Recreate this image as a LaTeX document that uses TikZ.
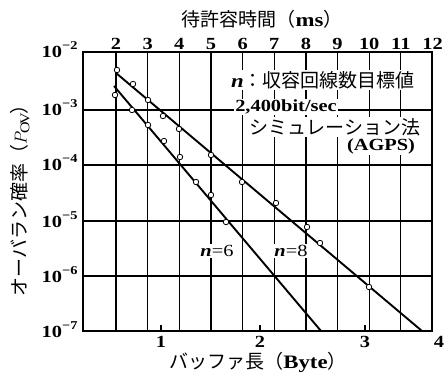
\documentclass[tikz,border=0pt]{standalone}
\usepackage{fontspec}
\setmainfont{Liberation Serif}[FakeStretch=1.2]
\newfontfamily\jp{Noto Sans CJK JP}
\usepackage{tikz}

\begin{document}
\begin{tikzpicture}[x=1pt, y=-1pt,
        gridrule/.style={line width=1.2pt},
        dataline/.style={line width=1.9pt},
        obs/.style={circle, draw, fill=white, line width=0.8pt, inner sep=0pt, minimum size=5.5pt},
        numlab/.style={font=\rmfamily\bfseries\fontsize{17}{20}\selectfont},
        jplab/.style={font=\jp\fontsize{19}{21}\selectfont},
        lbl/.style={fill=white, inner sep=1pt}]
        \useasboundingbox (0,0) rectangle (446,379);

        % Draw the grid (decades)
        \foreach \yy in {110,165,221,276}
            \draw[gridrule] (83,\yy) -- (432,\yy);
        % Draw the grid (milliseconds)
        \foreach \tt in {2,...,11}
            \draw[gridrule] ({116+(\tt-2)*31.65},52) -- ({116+(\tt-2)*31.65},331);

        % Draw the frame and byte ticks
        \draw[line width=1.5pt] (83,52) rectangle (432,331);
        \foreach \xx in {161,260,365}
            \draw[gridrule] (\xx,331) -- (\xx,325);

        % Add tick labels
        \foreach \tt in {2,...,12}
            \node[numlab, anchor=base] (ms\tt) at ({116+(\tt-2)*31.65},50) {\tt};
        \foreach \e/\yy in {2/52,3/110,4/165,5/221,6/276,7/331}
            \node[numlab, anchor=base east] (p\e) at (81,{\yy+6})
                {10\raisebox{8pt}{\fontsize{12}{12}\selectfont −\e}};
        \foreach \b/\xx in {1/161,2/260,3/365,4/439}
            \node[numlab, anchor=base] (b\b) at (\xx,347) {\b};

        % Add axis titles
        \node[jplab] (toptitle) at (262,19) {待許容時間（{\rmfamily\bfseries ms}）};
        \node[jplab] (bottitle) at (258,362) {バッファ長（{\rmfamily\bfseries Byte}）};
        \node[jplab, rotate=90] (lefttitle) at (20,196) {オーバラン確率（$P_{\mathrm{OV}}$）};

        % Add legend texts
        \node[jplab, lbl] (key) at (323,80) {{\rmfamily\bfseries\itshape n}：収容回線数目標値};
        \node[numlab, lbl] (rate) at (286,107) {2,400bit/sec};
        \node[jplab, lbl] (sim) at (335,127) {シミュレーション法};
        \node[numlab, lbl] (agps) at (381,146) {(AGPS)};

        % Draw the fitted lines
        \draw[dataline] (114,86) -- (321,331);
        \draw[dataline] (116,73) -- (422,331);

        % Draw the simulation points
        \foreach \xx/\yy [count=\i] in {115/95,132/110,148/125,164/141,180/157,196/182,211/195,226/222}
            \node[obs] (six\i) at (\xx,\yy) {};
        \foreach \xx/\yy [count=\i] in {117/70,133/84,148/100,163/116,179/129,211/155,242/182,276/203,307/227,320/243,369/287}
            \node[obs] (eight\i) at (\xx,\yy) {};

        % Add curve labels
        \node[numlab, lbl] (nsix) at (217,251) {{\itshape n}{\mdseries =6}};
        \node[numlab, lbl] (neight) at (291,251) {{\itshape n}{\mdseries =8}};
    \end{tikzpicture}
\end{document}
